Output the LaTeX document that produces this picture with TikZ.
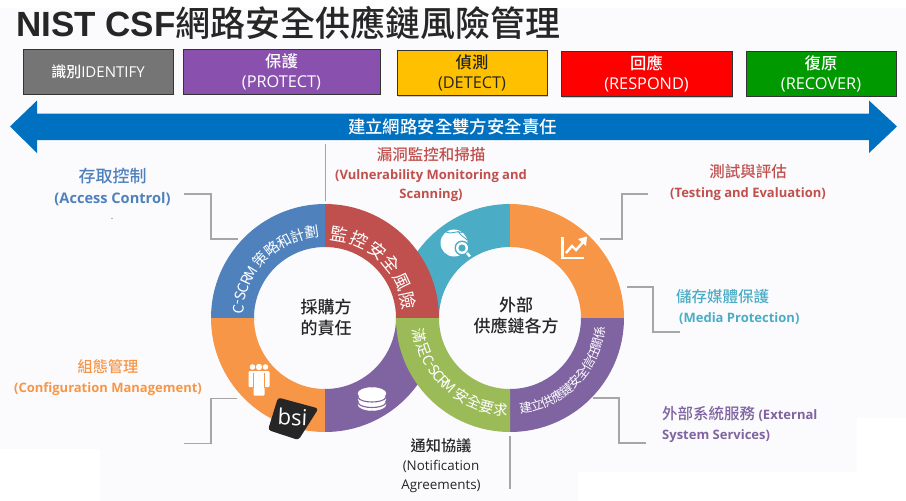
\documentclass[tikz,border=0pt]{standalone}
\usepackage{fontspec}
\setmainfont{Open Sans}
\newfontfamily\cjk{Noto Sans CJK TC}
\newfontfamily\cjkm{Noto Sans CJK TC Medium}
\newfontfamily\arial{Liberation Sans}
\usetikzlibrary{shadows}

\definecolor{ringblue}{HTML}{4F81BD}
\definecolor{ringred}{HTML}{C0504D}
\definecolor{ringorange}{HTML}{F79646}
\definecolor{ringpurple}{HTML}{8064A2}
\definecolor{ringgreen}{HTML}{9BBB59}
\definecolor{ringteal}{HTML}{4BACC6}
\definecolor{barblue}{HTML}{0070C0}
\definecolor{linegray}{HTML}{A6A6A6}
\definecolor{inkdark}{HTML}{262626}
\definecolor{pagegray}{HTML}{FBFBFD}

\newcommand{\ringseg}[4]{\fill [#4] ([shift={(#1)}]#2:114pt) arc [start angle=#2, end angle=#3, radius=114pt] -- ([shift={(#1)}]#3:71pt) arc [start angle=#3, end angle=#2, radius=71pt] -- cycle;}
\newcommand{\cjkhead}[2][15.5]{{\cjkm\mdseries\fontsize{#1}{20}\selectfont #2}}

\tikzset{
	stage/.style={draw=black!80, line width=0.8pt, minimum height=45pt, align=center, text=white, inner sep=0pt,
		font=\fontsize{16.3}{20}\selectfont, drop shadow={shadow xshift=1pt, shadow yshift=-1pt, opacity=0.4}},
	tag/.style={align=center, inner sep=0pt, font=\fontsize{13}{20}\selectfont\bfseries},
	hub/.style={align=center, text=inkdark, font=\cjkm\fontsize{17}{21}\selectfont},
	ringchar/.style={text=white, inner sep=0pt, font=\cjk\fontsize{#1}{#1}\selectfont},
	leader/.style={draw=linegray, line width=1.8pt},
}

\begin{document}
\begin{tikzpicture}[x=1pt, y=-1pt]
	\useasboundingbox (0,0) rectangle (906,501);
	\fill [white] (0,0) rectangle (906,501);
	\fill [pagegray] (0,8) rectangle (906,501);
	\fill [white] (0,449) rectangle (100,501);
	\fill [white] (578,472) rectangle (906,501);
	\fill [white] (857,418) rectangle (906,501);

	\node [inner sep=0pt, text=inkdark, anchor=west] (title) at (16,23) {\arial\fontsize{35}{35}\selectfont\bfseries NIST CSF\cjkm\mdseries 網路安全供應鏈風險管理};

	\node [stage, fill=black!54!white, minimum width=150pt, font=\fontsize{15}{20}\selectfont] (identify) at (98,71.5) {{\cjkm 識別}IDENTIFY};
	\node [stage, fill={rgb,255:red,138;green,80;blue,174}, minimum width=197pt] (protect) at (281.5,71.5) {{\cjkm 保護}\\(PROTECT)};
	\node [stage, fill={rgb,255:red,255;green,192;blue,0}, text=inkdark, minimum width=150pt] (detect) at (472,73) {{\cjkm 偵測}\\(DETECT)};
	\node [stage, fill=red, minimum width=171pt] (respond) at (646.5,74) {{\cjkm 回應}\\(RESPOND)};
	\node [stage, fill={rgb,255:red,0;green,153;blue,0}, minimum width=150pt] (recover) at (821,73.5) {{\cjkm 復原}\\(RECOVER)};

	\fill [barblue] (10,126.5) -- (37,100.5) -- (37,113.5) -- (869,113.5) -- (869,100.5) -- (897,126.5) -- (869,153) -- (869,140) -- (37,140) -- (37,153) -- cycle;
	\node [text=white, font=\cjkm\fontsize{17.4}{20}\selectfont] (shared) at (452.5,126.5) {建立網路安全雙方安全責任};

	% right ring goes under the red part, over the purple part
	\ringseg{510,318}{90}{180}{ringteal}
	\ringseg{325,318}{90}{180}{ringblue}
	\ringseg{325,318}{0}{90}{ringred}
	\ringseg{325,318}{180}{270}{ringorange}
	\ringseg{325,318}{270}{360}{ringpurple}
	\ringseg{510,318}{0}{90}{ringorange}
	\ringseg{510,318}{270}{360}{ringpurple}
	\ringseg{510,318}{180}{270}{ringgreen}

	\node [hub] (buyer) at (326,317) {採購方\\的責任};
	\node [hub] (supply) at (516,315.5) {外部\\供應鏈各方};

	\foreach \a/\c in {174/C,169.5/-,165/S,160/C,154.5/R,148.5/M,138/策,127.5/略,118/和,108.5/計,98.5/劃}
		\node [ringchar=14.5, rotate=\a-90] (plan\a) at ([shift={(325,318)}]\a:87pt) {\c};
	\foreach \a/\c in {80/監,66/控,52/安,39/全,25/風,12/險}
		\node [ringchar=17.5, rotate=\a-90] (watch\a) at ([shift={(325,318)}]\a:85pt) {\c};
	\foreach \a/\c in {191/滿,200/足,207.5/C,211/-,214.5/S,219/C,223.5/R,228.5/M,238/安,247/全,255.5/要,264/求}
		\node [ringchar=14.5, rotate=\a+90] (meet\a) at ([shift={(510,318)}]\a:92pt) {\c};
	\foreach \a/\c in {280/建,287/立,294/供,301/應,308/鏈,315.5/安,322.5/全,329.5/信,336.5/任,343.5/關,350.5/係}
		\node [ringchar=12.5, rotate=\a+90] (trust\a) at ([shift={(510,318)}]\a:91pt) {\c};

	% icons
	\fill [inkdark, rounded corners=3pt] (278,397.5) -- (318.5,408.5) -- (298.5,440) -- (268,430) -- cycle;
	\node [text=white, inner sep=0pt, font=\fontsize{22}{22}\selectfont, rotate=-3] (bsi) at (292.5,417) {bsi};

	\foreach \x in {252.5,265.5} {
		\fill [white] (\x,367) circle (2.8pt);
		\fill [white, rounded corners=1pt] (\x-4,371) rectangle (\x+4,387);
	}
	\fill [white] (259,367) circle (3.2pt);
	\fill [white, rounded corners=1pt] (253.5,371) rectangle (264.5,395.5);
	\draw [ringorange, line width=0.7pt] (253.5,373) -- (253.5,388) (264.5,373) -- (264.5,388);

	\foreach \y in {404.5,399,393.5}
		\draw [white, fill=white] (372,\y) ellipse (14pt and 6pt);
	\foreach \y in {404.5,399}
		\draw [ringpurple, line width=1.1pt] (358,\y-1.5) .. controls (361,\y+4.5) and (383,\y+4.5) .. (386,\y-1.5);

	\draw [white, line width=2.2pt] (562.5,237) -- (562.5,258) -- (584,258);
	\draw [white, line width=2.4pt] (566,253) -- (572,246) -- (576,250) -- (584,241);
	\fill [white] (587,236.5) -- (578,239) -- (586,246) -- cycle;

	\fill [white] (454,243) circle (13.5pt);
	\draw [ringteal, line width=0.9pt] (446,232) .. controls (452,235) and (456,230) .. (462,232.5) (458,231) .. controls (461,237) and (465,237) .. (467,240);
	\fill [ringteal] (462,248) circle (7.5pt);
	\fill [white] (462,248) circle (6pt);
	\fill [ringteal] (462,248) circle (3.6pt);
	\draw [white, line width=2.6pt] (467,253) -- (470,256.5);

	% labels
	\node [tag, text=ringblue, font=\fontsize{14.6}{21}\selectfont\bfseries] (access) at (112.5,187) {\cjkhead[17]{存取控制}\\(Access Control)};
	\fill [black!60] (112,218.5) circle (0.6pt);
	\node [tag, text=ringorange] (config) at (108,378) {\cjkhead[15.2]{組態管理}\\(Configuration Management)};
	\node [tag, text=ringred, font=\fontsize{13}{19}\selectfont\bfseries] (vuln) at (431,174.5) {\cjkhead{漏洞監控和掃描}\\(Vulnerability Monitoring and\\Scanning)};
	\node [tag, text=ringred] (testing) at (748,182.5) {\cjkhead{測試與評估}\\(Testing and Evaluation)};
	\node [tag, text=ringteal, align=left, anchor=west] (media) at (676,306.5) {\cjkhead{儲存媒體保護}\\\hspace*{3pt}(Media Protection)};
	\node [tag, text=ringpurple, align=left, anchor=west] (external) at (662,424) {\cjkhead{外部系統服務} (External\\System Services)};
	\node [tag, text=inkdark, font=\fontsize{13.4}{19}\selectfont] (notify) at (441,466) {\cjkhead[15.2]{通知協議}\\(Notification\\Agreements)};

	% leaders
	\coordinate (accessA) at (184,194);
	\coordinate (accessB) at (238,239);
	\coordinate (configA) at (237,398.5);
	\coordinate (configB) at (184,443.5);
	\coordinate (vulnA) at (325.5,144);
	\coordinate (vulnB) at (325.5,200.5);
	\coordinate (testingA) at (600,239);
	\coordinate (testingB) at (648,194);
	\coordinate (mediaA) at (627,287);
	\coordinate (mediaB) at (680,332);
	\coordinate (externalA) at (593,398);
	\coordinate (externalB) at (646,443);
	\coordinate (notifyA) at (510,436);
	\coordinate (notifyB) at (510,489);

	\draw [leader] (accessA) -- (211,194) -- (211,239) -- (accessB);
	\draw [leader] (configA) -- (211,398.5) -- (211,443.5) -- (configB);
	\draw [leader] (vulnA) -- (vulnB);
	\draw [leader] (testingA) -- (622,239) -- (622,194) -- (testingB);
	\draw [leader] (mediaA) -- (653,287) -- (653,332) -- (mediaB);
	\draw [leader] (externalA) -- (619,398) -- (619,443) -- (externalB);
	\draw [leader] (notifyA) -- (notifyB);
\end{tikzpicture}
\end{document}
